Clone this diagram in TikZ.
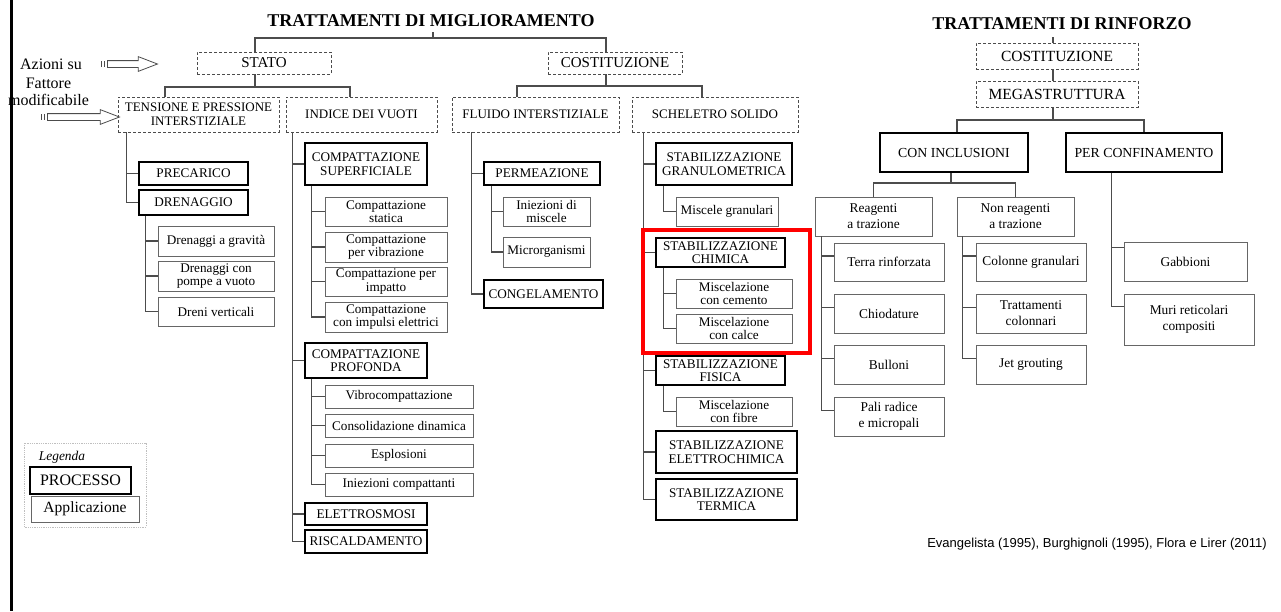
\documentclass[tikz,border=0pt]{standalone}
\usepackage{fontspec}
\setmainfont{Liberation Serif}
\newfontfamily\citefont{Liberation Sans}
\usetikzlibrary{shapes.arrows}
\tikzset{
  fattore/.style={draw=black!70, dashed, dash pattern=on 3pt off 2pt, line width=0.9pt, align=center, inner sep=1pt, font=\fontsize{13}{14.5}\selectfont},
  processo/.style={draw, line width=1.8pt, align=center, inner sep=1pt, font=\fontsize{13.2}{13.5}\selectfont},
  applicazione/.style={draw=black!60, line width=0.8pt, align=center, inner sep=1pt, font=\fontsize{13.2}{13.5}\selectfont},
  applr/.style={applicazione, font=\fontsize{13.4}{16}\selectfont},
  conn/.style={draw=black!70, line width=1.1pt},
  titolo/.style={font=\fontsize{18}{20}\selectfont\bfseries},
  freccia/.style={single arrow, draw=black!70, line width=0.8pt, inner sep=0pt, inner ysep=3pt, single arrow head extend=4pt, single arrow head indent=0pt, single arrow tip angle=42},
  coda/.style={draw=black!70, line width=1pt},
}
\begin{document}
\begin{tikzpicture}[x=1pt, y=-1pt]
\fill[white] (0,0) rectangle (1281,611);
\useasboundingbox (0,0) rectangle (1281,611);
\fill[black] (10,0) rectangle (13,611);

% trattamenti di miglioramento
\node[titolo] (titmig) at (431,21) {TRATTAMENTI DI MIGLIORAMENTO};
\node[fattore, font=\fontsize{15}{17}\selectfont, minimum width=134pt, minimum height=22pt] (stato) at (264,63) {STATO};
\node[fattore, font=\fontsize{15}{17}\selectfont, minimum width=134pt, minimum height=22pt] (costm) at (615,63) {COSTITUZIONE};
\coordinate (hubm) at (433,38);
\draw[conn] (hubm) -- ++(0,-6);
\draw[conn] ([xshift=-9pt]stato.north) |- (hubm) -| ([xshift=-9pt]costm.north);

\node[fattore, minimum width=161pt, minimum height=35pt] (tensione) at (198.5,114.5) {TENSIONE E PRESSIONE\\INTERSTIZIALE};
\node[fattore, minimum width=151pt, minimum height=35pt] (indice) at (361.5,114.5) {INDICE DEI VUOTI};
\node[fattore, minimum width=167pt, minimum height=35pt] (fluido) at (535.5,114.5) {FLUIDO INTERSTIZIALE};
\node[fattore, minimum width=166pt, minimum height=35pt] (scheletro) at (715,114.5) {SCHELETRO SOLIDO};
\coordinate (hubs) at (255,87);
\draw[conn] ([xshift=-9pt]stato.south) -- (hubs);
\draw[conn] ([xshift=-33.5pt]tensione.north) |- (hubs) -| ([xshift=-11.5pt]indice.north);
\coordinate (hubc) at (606,86);
\draw[conn] ([xshift=-9pt]costm.south) -- (hubc);
\draw[conn] ([xshift=-18.5pt]fluido.north) |- (hubc) -| ([xshift=-13pt]scheletro.north);

% azioni su / fattore modificabile
\node[font=\fontsize{16}{18}\selectfont] (azioni) at (51,64) {Azioni su};
\node[font=\fontsize{16}{16.5}\selectfont, align=center] (fattmod) at (48.5,92) {Fattore\\modificabile};
\node[freccia, minimum height=50pt] (frecciaaz) at (128,64) {};
\node[freccia, minimum height=72pt] (frecciafm) at (79,117) {};
\draw[coda] ([xshift=-3pt,yshift=3pt]frecciaaz.tail) -- ([xshift=-3pt,yshift=-3pt]frecciaaz.tail);
\draw[coda] ([xshift=-6pt,yshift=3pt]frecciaaz.tail) -- ([xshift=-6pt,yshift=-3pt]frecciaaz.tail);
\draw[coda] ([xshift=-3pt,yshift=3pt]frecciafm.tail) -- ([xshift=-3pt,yshift=-3pt]frecciafm.tail);
\draw[coda] ([xshift=-6pt,yshift=3pt]frecciafm.tail) -- ([xshift=-6pt,yshift=-3pt]frecciafm.tail);

% tensione e pressione interstiziale
\node[processo, minimum width=109pt, minimum height=23pt] (precarico) at (193.5,173.5) {PRECARICO};
\node[processo, minimum width=109pt, minimum height=25pt] (drenaggio) at (193.5,202.5) {DRENAGGIO};
\draw[conn] ([xshift=9pt]tensione.south west) |- (precarico.west);
\draw[conn] ([xshift=9pt]tensione.south west) |- (drenaggio.west);
\node[applicazione, minimum width=116pt, minimum height=30pt] (drgrav) at (216,241) {Drenaggi a gravità};
\node[applicazione, minimum width=116pt, minimum height=30pt] (drpompe) at (216,276) {Drenaggi con\\pompe a vuoto};
\node[applicazione, minimum width=116pt, minimum height=29pt] (drvert) at (216,311.5) {Dreni verticali};
\draw[conn] ([xshift=7pt]drenaggio.south west) |- (drgrav.west);
\draw[conn] ([xshift=7pt]drenaggio.south west) |- (drpompe.west);
\draw[conn] ([xshift=7pt]drenaggio.south west) |- (drvert.west);

% indice dei vuoti
\node[processo, minimum width=122pt, minimum height=42pt] (compsup) at (366,164) {COMPATTAZIONE\\SUPERFICIALE};
\node[processo, minimum width=122pt, minimum height=35pt] (compprof) at (366,360.5) {COMPATTAZIONE\\PROFONDA};
\node[processo, minimum width=122pt, minimum height=22pt] (elettro) at (366,514) {ELETTROSMOSI};
\node[processo, minimum width=122pt, minimum height=23pt] (riscald) at (366,541.5) {RISCALDAMENTO};
\draw[conn] ([xshift=7pt]indice.south west) |- (compsup.west);
\draw[conn] ([xshift=7pt]indice.south west) |- (compprof.west);
\draw[conn] ([xshift=7pt]indice.south west) |- (elettro.west);
\draw[conn] ([xshift=7pt]indice.south west) |- (riscald.west);
\node[applicazione, minimum width=122pt, minimum height=29pt] (cstat) at (386,211.5) {Compattazione\\statica};
\node[applicazione, minimum width=122pt, minimum height=30pt] (cvib) at (386,247) {Compattazione\\per vibrazione};
\node[applicazione, minimum width=122pt, minimum height=29pt] (cimp) at (386,281.5) {Compattazione per\\impatto};
\node[applicazione, minimum width=122pt, minimum height=30pt] (cimpul) at (386,317) {Compattazione\\con impulsi elettrici};
\draw[conn] ([xshift=7pt]compsup.south west) |- (cstat.west);
\draw[conn] ([xshift=7pt]compsup.south west) |- (cvib.west);
\draw[conn] ([xshift=7pt]compsup.south west) |- (cimp.west);
\draw[conn] ([xshift=7pt]compsup.south west) |- (cimpul.west);
\node[applicazione, minimum width=148pt, minimum height=23pt] (vibro) at (399,396.5) {Vibrocompattazione};
\node[applicazione, minimum width=148pt, minimum height=23pt] (consol) at (399,425.5) {Consolidazione dinamica};
\node[applicazione, minimum width=148pt, minimum height=23pt] (esplo) at (399,455.5) {Esplosioni};
\node[applicazione, minimum width=148pt, minimum height=23pt] (iniezc) at (399,484.5) {Iniezioni compattanti};
\draw[conn] ([xshift=7pt]compprof.south west) |- (vibro.west);
\draw[conn] ([xshift=7pt]compprof.south west) |- (consol.west);
\draw[conn] ([xshift=7pt]compprof.south west) |- (esplo.west);
\draw[conn] ([xshift=7pt]compprof.south west) |- (iniezc.west);

% fluido interstiziale
\node[processo, minimum width=116pt, minimum height=23pt] (permea) at (542,173.5) {PERMEAZIONE};
\node[processo, minimum width=119pt, minimum height=28pt] (congel) at (543.5,294) {CONGELAMENTO};
\draw[conn] ([xshift=20pt]fluido.south west) |- (permea.west);
\draw[conn] ([xshift=20pt]fluido.south west) |- (congel.west);
\node[applicazione, minimum width=87pt, minimum height=29pt] (iniezm) at (546.5,211.5) {Iniezioni di\\miscele};
\node[applicazione, minimum width=87pt, minimum height=30pt] (microrg) at (546.5,252) {Microrganismi};
\draw[conn] ([xshift=8pt]permea.south west) |- (iniezm.west);
\draw[conn] ([xshift=8pt]permea.south west) |- (microrg.west);

% scheletro solido
\node[processo, minimum width=136pt, minimum height=42pt] (stgran) at (724,164) {STABILIZZAZIONE\\GRANULOMETRICA};
\node[processo, minimum width=129pt, minimum height=29pt] (stchim) at (720.5,252.5) {STABILIZZAZIONE\\CHIMICA};
\node[processo, minimum width=129pt, minimum height=29pt] (stfis) at (720.5,370.5) {STABILIZZAZIONE\\FISICA};
\node[processo, minimum width=141pt, minimum height=42pt] (stelet) at (726.5,452) {STABILIZZAZIONE\\ELETTROCHIMICA};
\node[processo, minimum width=141pt, minimum height=41pt] (stterm) at (726.5,499.5) {STABILIZZAZIONE\\TERMICA};
\draw[conn] ([xshift=12pt]scheletro.south west) |- (stgran.west);
\draw[conn] ([xshift=12pt]scheletro.south west) |- (stchim.west);
\draw[conn] ([xshift=12pt]scheletro.south west) |- (stfis.west);
\draw[conn] ([xshift=12pt]scheletro.south west) |- (stelet.west);
\draw[conn] ([xshift=12pt]scheletro.south west) |- (stterm.west);
\node[applicazione, minimum width=102pt, minimum height=29pt] (miscgr) at (727,211.5) {Miscele granulari};
\node[applicazione, minimum width=116pt, minimum height=29pt] (mcem) at (734,293.5) {Miscelazione\\con cemento};
\node[applicazione, minimum width=116pt, minimum height=29pt] (mcalc) at (734,328.5) {Miscelazione\\con calce};
\node[applicazione, minimum width=116pt, minimum height=29pt] (mfib) at (734,411.5) {Miscelazione\\con fibre};
\draw[conn] ([xshift=8pt]stgran.south west) |- (miscgr.west);
\draw[conn] ([xshift=8pt]stchim.south west) |- (mcem.west);
\draw[conn] ([xshift=8pt]stchim.south west) |- (mcalc.west);
\draw[conn] ([xshift=8pt]stfis.south west) |- (mfib.west);
\draw[red, line width=3.5pt] (643,230) rectangle (810,353);

% trattamenti di rinforzo
\node[titolo] (titrin) at (1062,24) {TRATTAMENTI DI RINFORZO};
\node[fattore, font=\fontsize{15.5}{17}\selectfont, minimum width=162pt, minimum height=26pt] (costr) at (1057,56) {COSTITUZIONE};
\node[fattore, font=\fontsize{15.5}{17}\selectfont, minimum width=162pt, minimum height=26pt] (mega) at (1057,94) {MEGASTRUTTURA};
\draw[conn] ([xshift=-4pt]costr.north) -- ++(0,-6);
\draw[conn] ([xshift=-4pt]costr.south) -- ([xshift=-4pt]mega.north);
\coordinate (hubr) at (1053,120);
\draw[conn] ([xshift=-4pt]mega.south) -- (hubr);
\node[processo, font=\fontsize{13.8}{15}\selectfont, minimum width=148pt, minimum height=39pt] (conincl) at (954,152.5) {CON INCLUSIONI};
\node[processo, font=\fontsize{13.8}{15}\selectfont, minimum width=156pt, minimum height=39pt] (perconf) at (1144,152.5) {PER CONFINAMENTO};
\draw[conn] ([xshift=3pt]conincl.north) |- (hubr) -| (perconf.north);
\coordinate (hubi) at (951,183);
\draw[conn] ([xshift=-3pt]conincl.south) -- (hubi);
\node[applr, minimum width=117pt, minimum height=39pt] (reag) at (873.5,216.5) {Reagenti\\a trazione};
\node[applr, minimum width=117pt, minimum height=39pt] (nonreag) at (1015.5,216.5) {Non reagenti\\a trazione};
\draw[conn] (reag.north) |- (hubi) -| (nonreag.north);
\node[applr, minimum width=110pt, minimum height=38pt] (terra) at (889,262) {Terra rinforzata};
\node[applr, minimum width=110pt, minimum height=39pt] (chiod) at (889,313.5) {Chiodature};
\node[applr, minimum width=110pt, minimum height=39pt] (bull) at (889,364.5) {Bulloni};
\node[applr, minimum width=110pt, minimum height=39pt] (pali) at (889,416.5) {Pali radice\\e micropali};
\draw[conn] ([xshift=7pt]reag.south west) |- ([yshift=6pt]terra.west);
\draw[conn] ([xshift=7pt]reag.south west) |- ([yshift=6pt]chiod.west);
\draw[conn] ([xshift=7pt]reag.south west) |- ([yshift=6pt]bull.west);
\draw[conn] ([xshift=7pt]reag.south west) |- ([yshift=6pt]pali.west);
\node[applr, minimum width=110pt, minimum height=38pt] (colgr) at (1031,262) {Colonne granulari};
\node[applr, minimum width=110pt, minimum height=39pt] (tratt) at (1031,313.5) {Trattamenti\\colonnari};
\node[applr, minimum width=110pt, minimum height=39pt] (jet) at (1031,364.5) {Jet grouting};
\draw[conn] ([xshift=6pt]nonreag.south west) |- ([yshift=6pt]colgr.west);
\draw[conn] ([xshift=6pt]nonreag.south west) |- ([yshift=6pt]tratt.west);
\draw[conn] ([xshift=6pt]nonreag.south west) |- ([yshift=6pt]jet.west);
\node[applr, minimum width=123pt, minimum height=39pt] (gabb) at (1185.5,261.5) {Gabbioni};
\node[applr, minimum width=130pt, minimum height=51pt] (muri) at (1189,319.5) {Muri reticolari\\compositi};
\draw[conn] ([xshift=46pt]perconf.south west) |- ([yshift=-6pt]gabb.north west);
\draw[conn] ([xshift=46pt]perconf.south west) |- ([yshift=-13pt]muri.north west);

% legenda
\draw[black!25, densely dotted, line width=0.8pt] (24,443) rectangle (146,527);
\node[font=\fontsize{13.4}{15}\selectfont\itshape] (legenda) at (62,457) {Legenda};
\node[processo, font=\fontsize{16}{18}\selectfont, minimum width=101pt, minimum height=27pt] (legproc) at (80.5,480.5) {PROCESSO};
\node[applicazione, font=\fontsize{15.6}{18}\selectfont, minimum width=108pt, minimum height=26pt] (legappl) at (85,509) {Applicazione};

\node[font=\citefont\fontsize{13}{15}\selectfont] (fonte) at (1097,544) {Evangelista (1995), Burghignoli (1995), Flora e Lirer (2011)};
\end{tikzpicture}
\end{document}
